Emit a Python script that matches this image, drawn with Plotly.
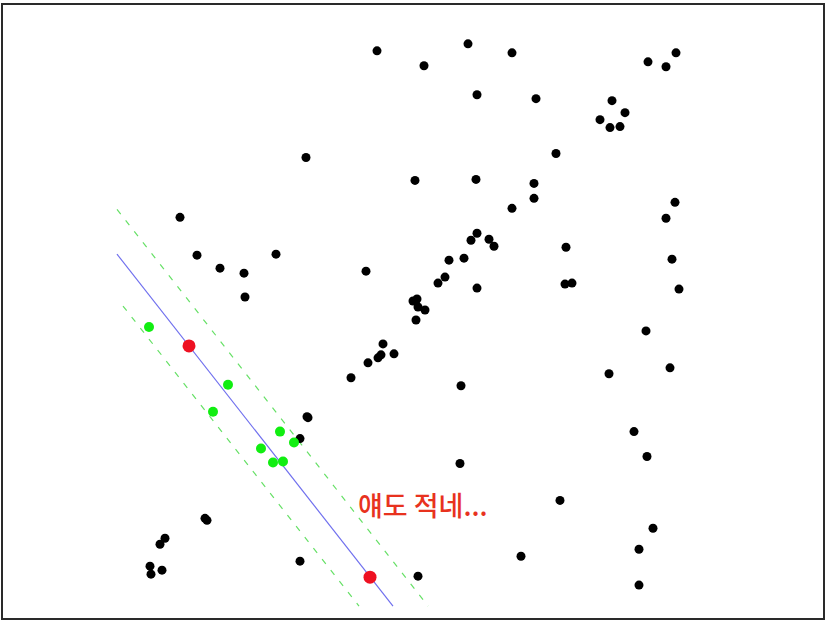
import plotly.graph_objects as go

# point positions (image-like coordinates, y grows downwards)
other_x = [377, 468, 512, 424, 477, 536, 306, 415, 476, 556, 534, 534, 512,
           648, 666, 676, 612, 625, 600, 610, 620,
           180, 197, 220, 244, 245, 276, 366,
           477, 471, 489, 494, 464, 449, 445, 438, 477, 413, 417, 418, 425, 416,
           566, 565, 572, 666, 675, 672, 679, 646, 670, 609,
           383, 381, 378, 394, 368, 351, 461, 308, 307, 300,
           634, 647, 460, 560, 653, 639, 639, 521, 418, 300,
           205, 207, 165, 160, 150, 151, 162]
other_y = [49, 42, 51, 64, 93, 97, 156, 179, 178, 152, 182, 197, 207,
           60, 65, 51, 99, 111, 118, 126, 125,
           216, 254, 267, 272, 296, 253, 270,
           232, 239, 238, 245, 257, 259, 276, 282, 287, 300, 298, 306, 309, 319,
           246, 283, 282, 217, 201, 258, 288, 330, 367, 373,
           343, 354, 357, 353, 362, 377, 385, 417, 416, 438,
           431, 456, 463, 500, 528, 549, 585, 556, 576, 561,
           518, 520, 538, 544, 566, 574, 570]

inlier_x = [149, 228, 213, 280, 294, 261, 273, 283]
inlier_y = [326, 384, 411, 431, 442, 448, 462, 461]

sample_x = [189, 370]
sample_y = [345, 577]

# fitted line and its threshold band (segment ends)
fit_x = [117, 393]
fit_y = [253, 606]
upper_x = [117, 428]
upper_y = [208, 606]
lower_x = [123, 359]
lower_y = [305, 606]

note_text = "얘도 적네..."
note_x = 423
note_y = 504

fig = go.Figure()

band = dict(color='#66e066', width=1.2, dash='6px,8px')
fig.add_trace(go.Scatter(x=upper_x, y=upper_y, mode='lines', line=band))
fig.add_trace(go.Scatter(x=lower_x, y=lower_y, mode='lines', line=band))
fig.add_trace(go.Scatter(x=fit_x, y=fit_y, mode='lines',
                         line=dict(color='#7070ee', width=1.2)))
fig.add_trace(go.Scatter(x=other_x, y=other_y, mode='markers',
                         marker=dict(color='black', size=9)))
fig.add_trace(go.Scatter(x=inlier_x, y=inlier_y, mode='markers',
                         marker=dict(color='#11ee11', size=10)))
fig.add_trace(go.Scatter(x=sample_x, y=sample_y, mode='markers',
                         marker=dict(color='#ee1122', size=13)))

fig.add_annotation(x=note_x, y=note_y, text=note_text, showarrow=False,
                   font=dict(family='Noto Sans CJK KR', size=27, color='#e8321e',
                             weight=500))

fig.update_xaxes(range=[3, 823], showgrid=False, zeroline=False,
                 showticklabels=False, ticks='', showline=True, mirror=True,
                 linecolor='#2a2a2a', linewidth=2)
fig.update_yaxes(range=[618, 3], showgrid=False, zeroline=False,
                 showticklabels=False, ticks='', showline=True, mirror=True,
                 linecolor='#2a2a2a', linewidth=2)

fig.update_layout(width=828, height=622, showlegend=False,
                  margin=dict(l=3, r=5, t=3, b=4),
                  plot_bgcolor='white', paper_bgcolor='white')

# page has a default body margin, drop it so the figure sits at the window corner
fig.write_html("out.html", config={'displayModeBar': False},
               post_script="document.body.style.margin='0px';")
